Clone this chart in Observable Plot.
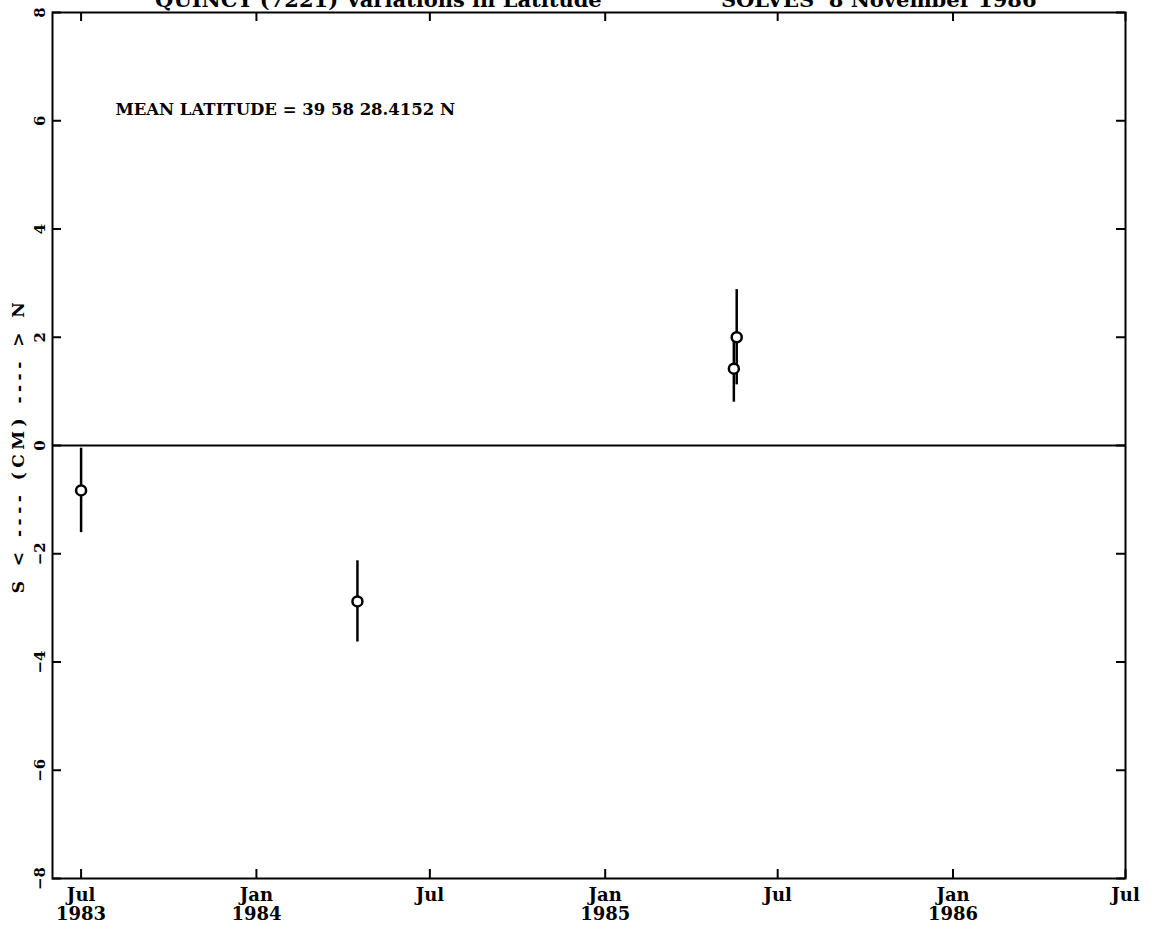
<!DOCTYPE html>
<html><head><meta charset="utf-8">
<script src="https://cdn.jsdelivr.net/npm/d3@7"></script>
<script src="https://cdn.jsdelivr.net/npm/@observablehq/plot@0.6"></script>
<style>
body{margin:0;background:#fff;}
.ylab text{letter-spacing:4.5px;}
</style>
</head><body><div id="chart"></div>
<script>
// Observations (cm, north positive) with their formal errors
const obsDates = ["1983-07-01", "1984-04-16", "1985-05-16", "1985-05-19"];
const obsValues = [-0.83, -2.88, 1.42, 2.00];
const obsErrors = [0.78, 0.75, 0.62, 0.88];

// Axis ticks
const xTickDates = ["1983-07-01", "1984-01-01", "1984-07-01", "1985-01-01", "1985-07-01", "1986-01-01", "1986-07-01"];
const xTickLabels = ["Jul\n1983", "Jan\n1984", "Jul", "Jan\n1985", "Jul", "Jan\n1986", "Jul"];
const yTicks = [-8, -6, -4, -2, 0, 2, 4, 6, 8];
const yTickLabels = ["\u22128", "\u22126", "\u22124", "\u22122", "0", "2", "4", "6", "8"];
const xDomain = ["1983-06-01", "1986-07-01"];
const yDomain = [-8, 8];

// Text
const titleParts = ["QUINCY (7221) Variations in Latitude", "SOLVES  8 November 1986"];
const titleDates = ["1984-05-08", "1985-10-15"];
const meanLatitudeText = "MEAN LATITUDE = 39 58 28.4152 N";
const meanLatitudeDate = "1983-08-06";
const meanLatitudeValue = 6.2;
const yAxisLabel = "S < ---- (CM) ---- > N";

// Layout
const W = 1153, H = 926, mTop = 12, mRight = 28, mBottom = 48, mLeft = 52, tickLen = 9;
const innerW = W - mLeft - mRight, innerH = H - mTop - mBottom;

const parse = s => new Date(s + "T00:00:00Z");
const obs = obsDates.map((d, i) => ({date: parse(d), value: obsValues[i], lo: obsValues[i] - obsErrors[i], hi: obsValues[i] + obsErrors[i]}));
const xTicks = xTickDates.map(parse);
const xLabelMap = new Map(xTicks.map((d, i) => [+d, xTickLabels[i]]));
const yLabelMap = new Map(yTicks.map((d, i) => [d, yTickLabels[i]]));
const titles = titleParts.map((t, i) => ({date: parse(titleDates[i]), text: t}));

const chart = Plot.plot({
  width: W,
  height: H,
  marginTop: mTop,
  marginRight: mRight,
  marginBottom: mBottom,
  marginLeft: mLeft,
  style: {fontFamily: "'DejaVu Serif', serif", fontWeight: "bold", fontSize: "14px", background: "white", color: "black"},
  x: {type: "utc", domain: xDomain.map(parse)},
  y: {domain: yDomain},
  marks: [
    Plot.frame({stroke: "black", strokeWidth: 2}),
    Plot.ruleY([0], {stroke: "black", strokeWidth: 2}),
    // inward ticks on all four sides
    Plot.tickY(yTicks, {y: d => d, insetRight: innerW - tickLen, stroke: "black", strokeWidth: 2}),
    Plot.tickY(yTicks, {y: d => d, insetLeft: innerW - tickLen, stroke: "black", strokeWidth: 2}),
    Plot.tickX(xTicks, {x: d => d, insetTop: innerH - tickLen, stroke: "black", strokeWidth: 2}),
    Plot.tickX(xTicks, {x: d => d, insetBottom: innerH - tickLen, stroke: "black", strokeWidth: 2}),
    Plot.axisX(xTicks, {anchor: "bottom", tickSize: 0, tickPadding: 8, tickFormat: d => xLabelMap.get(+d), label: null, fontSize: 18, lineHeight: 1.1}),
    Plot.axisY(yTicks, {anchor: "left", tickSize: 0, tickPadding: 8, tickRotate: -90, tickFormat: d => yLabelMap.get(d), fontSize: 15, label: null}),
    Plot.text([yAxisLabel], {frameAnchor: "left", textAnchor: "middle", text: d => d, rotate: -90, dx: -34, fontSize: 17, className: "ylab"}),
    Plot.ruleX(obs, {x: "date", y1: "lo", y2: "hi", stroke: "black", strokeWidth: 2.5}),
    Plot.dot(obs, {x: "date", y: "value", r: 5, stroke: "black", fill: "white", strokeWidth: 2.5}),
    Plot.text(titles, {x: "date", y: () => yDomain[1], text: "text", lineAnchor: "bottom", dy: -6, fontSize: 21}),
    Plot.text([meanLatitudeText], {x: () => parse(meanLatitudeDate), y: () => meanLatitudeValue, text: d => d, textAnchor: "start", fontSize: 16.5})
  ]
});
document.getElementById("chart").appendChild(chart);
</script>
</body></html>
